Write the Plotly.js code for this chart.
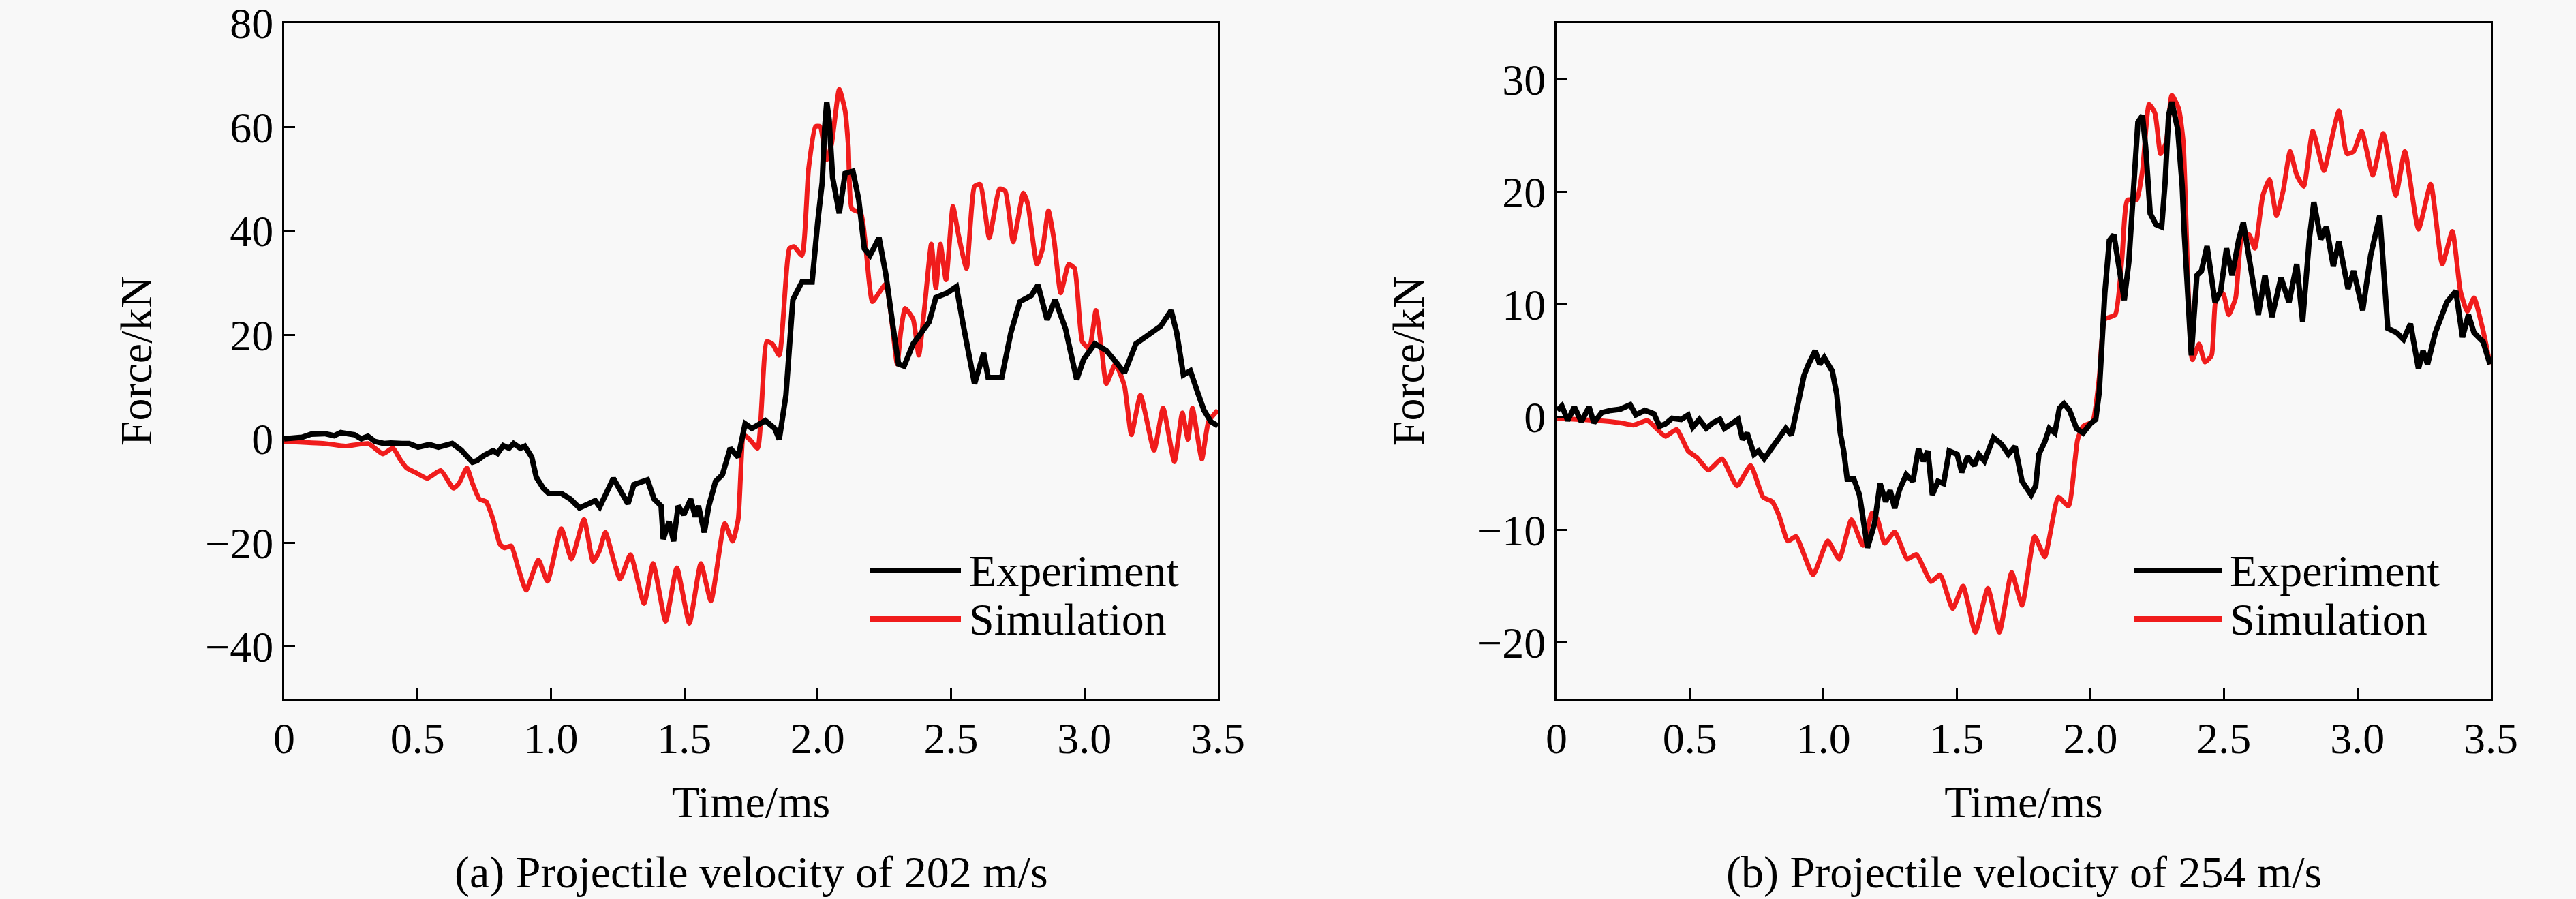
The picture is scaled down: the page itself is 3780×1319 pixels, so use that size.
<!DOCTYPE html>
<html>
<head>
<meta charset="utf-8">
<script src="https://cdn.plot.ly/plotly-3.0.1.min.js"></script>
<style>
  body { margin: 0; background: #f8f8f8; }
  #chart { width: 3780px; height: 1319px; }
</style>
</head>
<body>
<div id="chart"></div>
<script>
// ---- data (time in ms, force in kN) ----

// (a) 202 m/s, experiment
var timeExpA = [0, 0.067, 0.101, 0.152, 0.187, 0.212, 0.263, 0.289, 0.314, 0.340, 0.374, 0.400, 0.442, 0.468,
  0.502, 0.544, 0.578, 0.630, 0.664, 0.681, 0.706, 0.723, 0.749, 0.783, 0.800, 0.821, 0.843, 0.860, 0.885,
  0.902, 0.928, 0.945, 0.971, 0.992, 1.039, 1.073, 1.107, 1.141, 1.166, 1.183, 1.234, 1.289, 1.311, 1.362,
  1.387, 1.413, 1.421, 1.443, 1.460, 1.477, 1.498, 1.524, 1.541, 1.553, 1.575, 1.592, 1.617, 1.643, 1.672,
  1.702, 1.728, 1.753, 1.804, 1.839, 1.856, 1.881, 1.907, 1.941, 1.979, 2.000, 2.017, 2.026, 2.034, 2.043,
  2.056, 2.081, 2.103, 2.132, 2.154, 2.175, 2.196, 2.230, 2.256, 2.281, 2.303, 2.324, 2.358, 2.418, 2.443,
  2.486, 2.520, 2.545, 2.588, 2.622, 2.639, 2.690, 2.724, 2.758, 2.801, 2.826, 2.860, 2.890, 2.929, 2.971,
  2.997, 3.039, 3.082, 3.124, 3.150, 3.193, 3.252, 3.286, 3.325, 3.346, 3.371, 3.397, 3.422, 3.448, 3.474, 3.500];
var forceExpA = [0, 0.3, 0.9, 1.0, 0.6, 1.2, 0.8, 0.0, 0.5, -0.5, -0.9, -0.8, -0.9, -0.9,
  -1.6, -1.1, -1.6, -0.9, -2.2, -3.1, -4.5, -4.2, -3.2, -2.3, -2.8, -1.3, -1.8, -0.9, -1.8,
  -1.4, -3.5, -7.4, -9.5, -10.5, -10.5, -11.6, -13.3, -12.5, -11.9, -13.1, -7.6, -12.5, -8.8, -7.9,
  -11.6, -12.9, -19.3, -15.9, -19.7, -12.9, -14.6, -11.6, -15.0, -12.9, -18.0, -12.9, -8.2, -6.9, -1.8,
  -3.5, 2.9, 2.0, 3.5, 2.0, -0.1, 8.4, 26.8, 30.2, 30.2, 41.7, 49.4, 59.7, 64.8, 61.4,
  50.3, 43.4, 51.1, 51.5, 46.0, 36.6, 35.3, 38.7, 31.5, 22.1, 14.4, 14.0, 18.3, 22.5, 27.2,
  28.1, 29.3, 22.1, 10.6, 16.5, 11.8, 11.8, 20.4, 26.4, 27.6, 29.6, 22.9, 26.8, 21.2, 11.4,
  15.3, 18.3, 17.0, 14.4, 12.7, 18.3, 20.4, 21.7, 24.7, 20.4, 12.3, 13.1, 9.3, 5.5, 3.3, 2.5];

// (a) 202 m/s, simulation
var timeSimA = [0, 0.152, 0.229, 0.314, 0.340, 0.370, 0.408, 0.434, 0.459, 0.493, 0.536, 0.587, 0.634, 0.655,
  0.685, 0.706, 0.732, 0.757, 0.783, 0.808, 0.825, 0.851, 0.877, 0.907, 0.953, 0.987, 1.039, 1.077, 1.124,
  1.158, 1.183, 1.204, 1.259, 1.298, 1.349, 1.383, 1.430, 1.472, 1.519, 1.562, 1.600, 1.651, 1.681, 1.702,
  1.724, 1.745, 1.775, 1.809, 1.830, 1.856, 1.894, 1.911, 1.941, 1.966, 1.992, 2.009, 2.034, 2.052, 2.081,
  2.103, 2.115, 2.128, 2.162, 2.179, 2.205, 2.230, 2.256, 2.298, 2.311, 2.328, 2.358, 2.379, 2.401, 2.426,
  2.443, 2.460, 2.481, 2.507, 2.528, 2.558, 2.588, 2.609, 2.643, 2.682, 2.703, 2.733, 2.771, 2.788, 2.822,
  2.843, 2.865, 2.886, 2.911, 2.941, 2.963, 2.992, 3.018, 3.043, 3.065, 3.082, 3.116, 3.150, 3.176, 3.210,
  3.261, 3.295, 3.337, 3.367, 3.388, 3.405, 3.440, 3.465, 3.500];
var forceSimA = [-0.5, -0.9, -1.4, -0.9, -1.8, -2.9, -1.8, -3.9, -5.6, -6.5, -7.6, -6.1, -9.5, -8.6,
  -5.6, -8.6, -11.6, -12.1, -15.5, -20.2, -21.0, -20.6, -24.8, -29.1, -23.3, -27.4, -17.3, -23.1, -15.5,
  -23.6, -21.4, -18.0, -27.0, -22.3, -31.7, -24.0, -35.1, -24.8, -35.5, -24.0, -31.2, -16.3, -19.7, -15.5,
  0.7, -0.1, -1.8, 18.7, 18.3, 16.1, 36.6, 37.0, 35.3, 52.0, 60.1, 60.1, 53.7, 56.7, 67.3,
  63.1, 56.2, 44.3, 43.4, 37.5, 26.4, 28.1, 29.8, 14.4, 20.4, 25.1, 23.0, 16.1, 25.5, 37.5,
  29.0, 37.5, 30.6, 44.7, 39.2, 32.8, 48.6, 49.0, 38.7, 48.1, 47.7, 37.9, 47.3, 45.1, 33.6,
  36.6, 43.9, 38.3, 28.1, 33.6, 32.8, 18.7, 17.4, 24.7, 17.0, 10.6, 14.4, 10.2, 0.8, 8.4,
  -2.2, 5.9, -4.4, 5.0, -0.1, 5.9, -3.9, 3.3, 5.5];

// (b) 254 m/s, experiment
var timeExpB = [0.003, 0.020, 0.042, 0.067, 0.093, 0.122, 0.140, 0.169, 0.203, 0.238, 0.276, 0.297, 0.331, 0.365,
  0.386, 0.408, 0.433, 0.467, 0.493, 0.510, 0.535, 0.561, 0.586, 0.612, 0.629, 0.654, 0.680, 0.697, 0.714,
  0.740, 0.757, 0.778, 0.799, 0.825, 0.859, 0.880, 0.901, 0.927, 0.944, 0.969, 0.986, 1.003, 1.033, 1.050,
  1.063, 1.076, 1.089, 1.114, 1.135, 1.152, 1.165, 1.191, 1.212, 1.233, 1.250, 1.267, 1.284, 1.310, 1.335,
  1.356, 1.374, 1.391, 1.408, 1.429, 1.450, 1.471, 1.501, 1.518, 1.540, 1.565, 1.582, 1.603, 1.637, 1.667,
  1.693, 1.718, 1.744, 1.778, 1.795, 1.807, 1.829, 1.846, 1.867, 1.884, 1.901, 1.922, 1.948, 1.973, 1.999,
  2.020, 2.033, 2.054, 2.071, 2.088, 2.105, 2.127, 2.144, 2.161, 2.178, 2.195, 2.207, 2.224, 2.246, 2.267,
  2.280, 2.293, 2.305, 2.327, 2.344, 2.352, 2.378, 2.399, 2.416, 2.437, 2.467, 2.488, 2.510, 2.531, 2.556,
  2.573, 2.595, 2.629, 2.654, 2.680, 2.714, 2.744, 2.773, 2.795, 2.820, 2.837, 2.863, 2.884, 2.910, 2.931,
  2.965, 2.986, 3.020, 3.050, 3.084, 3.114, 3.148, 3.173, 3.199, 3.229, 3.246, 3.263, 3.292, 3.335, 3.369,
  3.394, 3.416, 3.437, 3.471, 3.497];
var forceExpB = [0.6, 1.0, -0.3, 0.9, -0.4, 0.9, -0.5, 0.4, 0.6, 0.7, 1.1, 0.2, 0.6, 0.3,
  -0.8, -0.6, -0.1, -0.2, 0.2, -0.9, -0.2, -1.0, -0.5, -0.2, -1.0, -0.6, -0.2, -2.0, -1.4,
  -3.3, -3.0, -3.7, -3.0, -2.2, -1.0, -1.6, 0.6, 3.7, 4.7, 5.9, 4.7, 5.3, 4.1, 2.0,
  -1.4, -3.0, -5.5, -5.5, -6.9, -9.8, -11.6, -9.5, -5.9, -7.5, -6.5, -8.1, -6.5, -5.1, -5.7,
  -2.8, -3.9, -3.0, -6.9, -5.7, -5.9, -3.0, -3.3, -4.9, -3.5, -4.3, -3.3, -3.9, -1.8, -2.4,
  -3.3, -2.6, -5.7, -6.9, -6.1, -3.3, -2.2, -1.0, -1.4, 0.8, 1.2, 0.6, -1.0, -1.4, -0.6,
  -0.2, 2.2, 11.0, 15.7, 16.2, 13.8, 10.4, 13.8, 20.5, 26.2, 26.8, 24.0, 18.1, 17.1, 16.9,
  20.9, 26.8, 28.0, 25.6, 20.5, 16.2, 5.5, 12.6, 13.0, 15.2, 10.2, 11.2, 15.0, 12.6, 15.8,
  17.3, 14.2, 9.1, 12.6, 8.9, 12.4, 10.2, 13.6, 8.5, 15.8, 19.1, 15.8, 16.9, 13.4, 15.6,
  11.4, 13.0, 9.5, 14.4, 17.9, 7.9, 7.5, 6.9, 8.3, 4.3, 5.9, 4.7, 7.5, 10.2, 11.2,
  7.1, 9.1, 7.5, 6.7, 4.7];

// (b) 254 m/s, simulation
var timeSimB = [0.003, 0.152, 0.238, 0.289, 0.340, 0.374, 0.408, 0.450, 0.493, 0.527, 0.569, 0.620, 0.676, 0.727,
  0.774, 0.808, 0.833, 0.867, 0.897, 0.961, 1.016, 1.059, 1.105, 1.148, 1.182, 1.203, 1.229, 1.267, 1.314,
  1.348, 1.403, 1.437, 1.484, 1.523, 1.569, 1.616, 1.659, 1.705, 1.744, 1.791, 1.829, 1.880, 1.918, 1.952,
  1.973, 2.008, 2.033, 2.054, 2.093, 2.118, 2.139, 2.173, 2.195, 2.220, 2.242, 2.263, 2.284, 2.305, 2.331,
  2.348, 2.382, 2.407, 2.429, 2.454, 2.471, 2.497, 2.518, 2.544, 2.569, 2.595, 2.616, 2.646, 2.671, 2.697,
  2.722, 2.748, 2.773, 2.799, 2.833, 2.875, 2.897, 2.931, 2.961, 2.986, 3.016, 3.058, 3.097, 3.144, 3.178,
  3.229, 3.275, 3.318, 3.356, 3.386, 3.412, 3.437, 3.471, 3.497];
var forceSimB = [-0.1, -0.3, -0.5, -0.7, -0.3, -1.0, -1.7, -1.1, -3.0, -3.6, -4.7, -3.7, -6.1, -4.3,
  -7.1, -7.5, -8.7, -11.0, -10.6, -14.0, -11.0, -12.6, -9.1, -11.4, -8.5, -9.1, -11.2, -10.2, -12.6,
  -12.2, -14.6, -14.0, -17.0, -15.0, -19.1, -15.2, -19.1, -13.8, -16.7, -10.6, -12.4, -7.1, -7.9, -2.0,
  -0.8, -0.4, 3.5, 8.7, 9.1, 14.0, 19.3, 19.3, 21.9, 27.8, 27.0, 23.4, 24.4, 28.6, 27.4,
  24.4, 5.1, 6.5, 4.9, 5.5, 10.6, 11.0, 9.1, 10.6, 16.2, 16.2, 15.0, 19.7, 21.1, 17.9,
  20.1, 23.6, 21.5, 20.5, 25.4, 21.9, 24.0, 27.2, 23.4, 23.6, 25.4, 21.5, 25.2, 19.7, 23.6,
  16.7, 20.7, 13.6, 16.5, 11.2, 9.4, 10.6, 7.7, 4.7];

// axis ticks
var timeTicks = [0, 0.5, 1.0, 1.5, 2.0, 2.5, 3.0, 3.5];
var timeTickText = ['0', '0.5', '1.0', '1.5', '2.0', '2.5', '3.0', '3.5'];
var forceTicksA = [-40, -20, 0, 20, 40, 60, 80];
var forceTickTextA = ['\u221240', '\u221220', '0', '20', '40', '60', '80'];
var forceTicksB = [-20, -10, 0, 10, 20, 30];
var forceTickTextB = ['\u221220', '\u221210', '0', '10', '20', '30'];

var seriesNames = ['Experiment', 'Simulation'];
var captions = ['(a) Projectile velocity of 202 m/s', '(b) Projectile velocity of 254 m/s'];

// ---- drawing ----
var FONT = 'Liberation Serif, Times New Roman, serif';
var expColor = '#000000';
var simColor = '#f01c1c';

function expTrace(t, f, xa, ya) {
  return { x: t, y: f, xaxis: xa, yaxis: ya, type: 'scatter', mode: 'lines', name: seriesNames[0],
    showlegend: false, line: { color: expColor, width: 8 } };
}
function simTrace(t, f, xa, ya) {
  return { x: t, y: f, xaxis: xa, yaxis: ya, type: 'scatter', mode: 'lines', name: seriesNames[1],
    showlegend: false, line: { color: simColor, width: 7, shape: 'spline', smoothing: 0.5 } };
}

var data = [
  simTrace(timeSimA, forceSimA, 'x', 'y'),
  expTrace(timeExpA, forceExpA, 'x', 'y'),
  simTrace(timeSimB, forceSimB, 'x2', 'y2'),
  expTrace(timeExpB, forceExpB, 'x2', 'y2')
];

function xAxis(domain, anchor) {
  return {
    domain: domain, anchor: anchor, range: [0, 3.5],
    tickvals: timeTicks, ticktext: timeTickText,
    ticks: 'inside', ticklen: 16, tickwidth: 3, tickcolor: '#000',
    showline: true, linewidth: 3, linecolor: '#000', mirror: true,
    showgrid: false, zeroline: false, ticklabeloverflow: 'allow',
    tickfont: { family: FONT, size: 64, color: '#000' },
    title: { text: 'Time/ms', font: { family: FONT, size: 66, color: '#000' }, standoff: 36 }
  };
}
function yAxis(domain, anchor, range, vals, text) {
  return {
    domain: domain, anchor: anchor, range: range,
    tickvals: vals, ticktext: text,
    ticks: 'inside', ticklen: 16, tickwidth: 3, tickcolor: '#000',
    showline: true, linewidth: 3, linecolor: '#000', mirror: true,
    showgrid: false, zeroline: false, ticklabeloverflow: 'allow',
    tickfont: { family: FONT, size: 64, color: '#000' },
    title: { text: 'Force/kN', font: { family: FONT, size: 66, color: '#000' }, standoff: 58 }
  };
}

var W = 3780, H = 1319;
var domA = [417 / W, 1787 / W];
var domB = [2284 / W, 3655 / W];
var domY = [1 - 1025 / H, 1 - 34 / H];

// hand-drawn legend (long sample lines like the original)
function legendParts(x0, x1, xt) {
  var yE = 1 - 837 / H, yS = 1 - 908 / H;
  var shapes = [
    { type: 'line', xref: 'paper', yref: 'paper', x0: x0, x1: x1, y0: yE, y1: yE, line: { color: expColor, width: 8 } },
    { type: 'line', xref: 'paper', yref: 'paper', x0: x0, x1: x1, y0: yS, y1: yS, line: { color: simColor, width: 8 } }
  ];
  var notes = [
    { xref: 'paper', yref: 'paper', x: xt, y: yE, xanchor: 'left', yanchor: 'middle', showarrow: false,
      text: seriesNames[0], font: { family: FONT, size: 66, color: '#000' } },
    { xref: 'paper', yref: 'paper', x: xt, y: yS, xanchor: 'left', yanchor: 'middle', showarrow: false,
      text: seriesNames[1], font: { family: FONT, size: 66, color: '#000' } }
  ];
  return { shapes: shapes, notes: notes };
}
var legA = legendParts(1277 / W, 1410 / W, 1420 / W);
var legB = legendParts(3132 / W, 3260 / W, 3270 / W);

var capY = 1 - 1280 / H;
var annotations = legA.notes.concat(legB.notes).concat([
  { xref: 'paper', yref: 'paper', x: (domA[0] + domA[1]) / 2, y: capY, xanchor: 'center', yanchor: 'middle',
    showarrow: false, text: captions[0], font: { family: FONT, size: 66, color: '#000' } },
  { xref: 'paper', yref: 'paper', x: (domB[0] + domB[1]) / 2, y: capY, xanchor: 'center', yanchor: 'middle',
    showarrow: false, text: captions[1], font: { family: FONT, size: 66, color: '#000' } }
]);

var layout = {
  width: W, height: H,
  margin: { l: 0, r: 0, t: 0, b: 0 },
  paper_bgcolor: '#f8f8f8', plot_bgcolor: '#f8f8f8',
  showlegend: false,
  xaxis: xAxis(domA, 'y'),
  yaxis: yAxis(domY, 'x', [-50, 80], forceTicksA, forceTickTextA),
  xaxis2: xAxis(domB, 'y2'),
  yaxis2: yAxis(domY, 'x2', [-25, 35], forceTicksB, forceTickTextB),
  shapes: legA.shapes.concat(legB.shapes),
  annotations: annotations
};

Plotly.newPlot('chart', data, layout, { staticPlot: true });
</script>
</body>
</html>
